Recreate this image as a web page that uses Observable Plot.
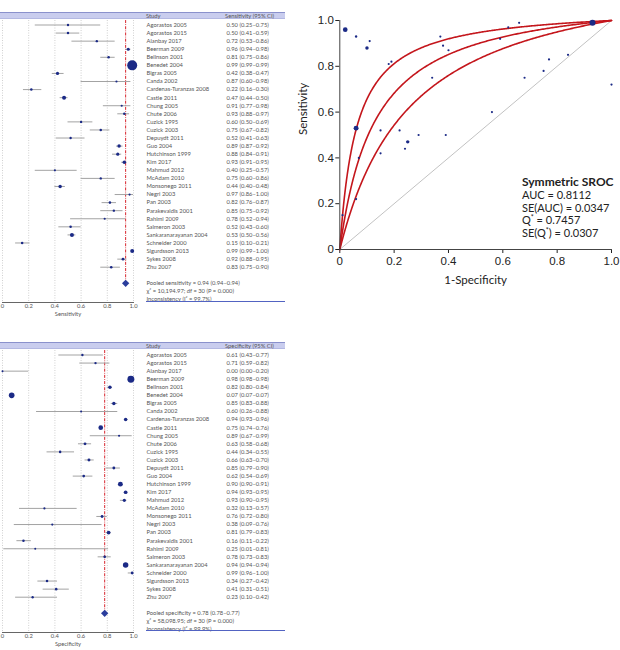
<!DOCTYPE html>
<html><head><meta charset="utf-8">
<script src="https://cdn.jsdelivr.net/npm/d3@7"></script>
<script src="https://cdn.jsdelivr.net/npm/@observablehq/plot@0.6"></script>
<style>
body{margin:0;background:#fff;}
#wrap{position:relative;width:620px;height:650px;overflow:hidden;font-family:Lato,"Noto Sans",sans-serif;}
#wrap svg{position:absolute;overflow:visible;}
.band{position:absolute;left:0;width:285px;height:5px;background:#c9cdee;border-top:1px solid #8a91cc;border-bottom:1px solid #b3b8e2;}
.hdr{position:absolute;font-size:5.8px;color:#555;white-space:nowrap;line-height:6px;}
.uline{position:absolute;left:146px;width:139px;height:1px;background:#5263c2;}
.stats{position:absolute;left:522px;color:#222;font-family:Lato,"Noto Sans",sans-serif;white-space:nowrap;}
.stats div{height:12.8px;line-height:12.8px;font-size:11px;}
.stats .t{font-weight:bold;font-size:12px;}
</style></head><body><div id="wrap"></div>
<script>
// ---- data ----
const studies = ["Agorastos 2005","Agorastos 2015","Alanbay 2017","Beerman 2009","Belinson 2001","Benedet 2004","Bigras 2005","Canda 2002","Cardenas-Turanzas 2008","Castle 2011","Chung 2005","Chute 2006","Cuzick 1995","Cuzick 2003","Depuydt 2011","Guo 2004","Hutchinson 1999","Kim 2017","Mahmud 2012","McAdam 2010","Monsonego 2011","Negri 2003","Pan 2003","Parakevaidis 2001","Rahimi 2009","Salmeron 2003","Sankaranarayanan 2004","Schneider 2000","Sigurdsson 2013","Sykes 2008","Zhu 2007"];
const sensEst = [0.50,0.50,0.72,0.96,0.81,0.99,0.42,0.87,0.22,0.47,0.91,0.93,0.60,0.75,0.52,0.89,0.88,0.93,0.40,0.75,0.44,0.97,0.82,0.85,0.78,0.52,0.53,0.15,0.99,0.92,0.83];
const sensLo  = [0.25,0.41,0.53,0.94,0.75,0.99,0.38,0.60,0.16,0.44,0.77,0.88,0.50,0.67,0.41,0.87,0.84,0.91,0.25,0.60,0.40,0.86,0.76,0.75,0.52,0.43,0.50,0.10,0.99,0.88,0.75];
const sensHi  = [0.75,0.59,0.86,0.98,0.86,0.99,0.47,0.98,0.30,0.50,0.98,0.97,0.69,0.82,0.63,0.92,0.91,0.95,0.57,0.86,0.48,1.00,0.87,0.92,0.94,0.60,0.56,0.21,1.00,0.95,0.90];
const specEst = [0.61,0.71,0.00,0.98,0.82,0.07,0.85,0.60,0.94,0.75,0.89,0.63,0.44,0.66,0.85,0.62,0.90,0.94,0.93,0.32,0.76,0.38,0.81,0.16,0.25,0.78,0.94,0.99,0.34,0.41,0.23];
const specLo  = [0.43,0.59,0.00,0.98,0.80,0.07,0.83,0.26,0.93,0.74,0.67,0.58,0.34,0.63,0.79,0.54,0.90,0.93,0.90,0.13,0.72,0.09,0.79,0.11,0.01,0.73,0.94,0.96,0.27,0.31,0.10];
const specHi  = [0.77,0.82,0.20,0.98,0.84,0.07,0.88,0.88,0.96,0.76,0.99,0.68,0.55,0.70,0.90,0.69,0.91,0.95,0.95,0.57,0.80,0.76,0.83,0.22,0.81,0.83,0.94,1.00,0.42,0.51,0.42];
// relative study weights (marker area)
const sensWeight = [1.4,1.6,1.4,2.3,1.6,25,2.5,1.2,1.6,4,1.2,1.6,1.4,1.6,1.4,3,2.5,3,1.2,1.4,3,1.2,1.6,1.4,1.2,1.6,4,1.6,4,2,1.6];
const specWeight = [1.4,1.4,1.0,12,3,8,3,1.0,3,5.5,1.2,2,1.6,2.2,2,1.8,6,3.5,2.5,1.2,2,1.2,3.5,1.6,1.0,1.8,7.5,2,1.6,1.6,1.4];
const srocWeight = [1.2,1.2,1.2,5.5,1.2,9,1.2,1.2,1.2,3,1.2,1.2,1.2,1.2,1.2,1.2,3,1.4,1.2,1.2,1.2,1.2,1.2,1.2,1.2,1.2,6,1.2,1.2,1.2,1.2];
const pooledSens = 0.94;
const pooledSpec = 0.78;
const sensStats = ["Pooled sensitivity = 0.94 (0.94–0.94)","χ² = 10,194.97; df = 30 (P = 0.000)","Inconsistency (I² = 99.7%)"];
const specStats = ["Pooled specificity = 0.78 (0.78–0.77)","χ² = 58,098.95; df = 30 (P = 0.000)","Inconsistency (I² = 99.9%)"];
const axisTicks = [0,0.2,0.4,0.6,0.8,1.0];
const srocAUC = 0.8112, srocSEAUC = 0.0347, srocQ = 0.7457, srocSEQ = 0.0307;

// ---- helpers ----
const fmt = d => d.toFixed(2);
const tickFmt = d => d === 0 ? "0" : d.toFixed(1);
const wrap = document.getElementById("wrap");
function el(cls, css, html){const d=document.createElement("div");d.className=cls;Object.assign(d.style,css);if(html!=null)d.innerHTML=html;wrap.appendChild(d);return d;}

function forest(est, lo, hi, w, pooled, stats, label){
  const n = studies.length;
  const rows = studies.map((s,i)=>({i, study:s, est:est[i], lo:lo[i], hi:hi[i], w:w[i], ci:`${fmt(est[i])} (${fmt(lo[i])}–${fmt(hi[i])})`}));
  const statRows = stats.map((t,k)=>({i:n+1+k, text:t}));
  return Plot.plot({
    width:290, height:320, marginLeft:2, marginRight:157, marginTop:20, marginBottom:18,
    style:{fontFamily:"Lato, 'Noto Sans', sans-serif", fontSize:"5.8px", color:"#555", background:"transparent", overflow:"visible"},
    x:{domain:[0,1], ticks:axisTicks, tickFormat:tickFmt, tickSize:0, tickPadding:1.5, label:null},
    y:{domain:[0,n-1], range:[24.5,266.7], axis:null},
    r:{type:"sqrt", domain:[0,25], range:[0,5]},
    marks:[
      Plot.ruleX(axisTicks, {stroke:"#c4c4c4", strokeDasharray:"1,1.5", strokeWidth:0.8}),
      Plot.ruleX([pooled], {y1:()=>-0.55, y2:()=>n+1, stroke:"#d7262e", strokeWidth:1, strokeDasharray:"3,1.2,0.8,1.2"}),
      Plot.ruleY(rows, {y:"i", x1:"lo", x2:"hi", stroke:"#a3a3a3", strokeWidth:1}),
      Plot.dot(rows, {x:"est", y:"i", r:"w", fill:"#1b2a86", stroke:"none"}),
      Plot.dot([pooled], {x:d=>d, y:()=>n+1, symbol:"diamond2", r:3.3, fill:"#2a3d9c"}),
      Plot.text(rows, {y:"i", text:"study", frameAnchor:"right", dx:13, textAnchor:"start"}),
      Plot.text(rows, {y:"i", text:"ci", frameAnchor:"right", dx:93, textAnchor:"start"}),
      Plot.text(statRows, {y:"i", text:"text", frameAnchor:"right", dx:13, textAnchor:"start"}),
      Plot.frame({anchor:"bottom", stroke:"#666"}),
      Plot.text([label], {frameAnchor:"bottom", dy:13, fontSize:"5.8px"})
    ]
  });
}

function addForest(top, est, lo, hi, w, pooled, stats, label){
  const svg = forest(est, lo, hi, w, pooled, stats, label);
  svg.style.left = "0px"; svg.style.top = top + "px";
  wrap.appendChild(svg);
  el("band", {top:(top+12)+"px"});
  el("hdr", {left:"146px", top:(top+13)+"px"}, "Study");
  el("hdr", {left:"225px", top:(top+13)+"px"}, label + " (95% CI)");
  el("uline", {top:(top+300.5)+"px"});
}

addForest(0, sensEst, sensLo, sensHi, sensWeight, pooledSens, sensStats, "Sensitivity");
addForest(329.5, specEst, specLo, specHi, specWeight, pooledSpec, specStats, "Specificity");

// ---- SROC ----
const logit = p => Math.log(p/(1-p));
const qLevels = [srocQ + 1.96*srocSEQ, srocQ, srocQ - 1.96*srocSEQ];
const fGrid = d3.range(0, 401).map(k => (k/400)**2);
const curves = qLevels.flatMap((q, c) => {
  const D = 2*logit(q);
  return fGrid.map(f => ({c, f, s: f === 0 ? 0 : 1/(1 + Math.exp(-D)*(1-f)/f)}));
});
const pts = studies.map((s,i)=>({study:s, fpr:1-specEst[i], sens:sensEst[i], w:srocWeight[i]}));

const sroc = Plot.plot({
  width:330, height:300, marginLeft:49.3, marginRight:9, marginTop:20, marginBottom:51,
  style:{fontFamily:"'Liberation Sans', Arial, sans-serif", fontSize:"11.5px", color:"#222", background:"transparent", overflow:"visible"},
  x:{domain:[0,1], ticks:axisTicks, tickFormat:tickFmt, tickSize:4, tickPadding:3, label:null},
  y:{domain:[0,1], ticks:axisTicks, tickFormat:tickFmt, tickSize:4, tickPadding:2, label:null},
  r:{type:"sqrt", domain:[0,25], range:[0,5]},
  marks:[
    Plot.line([0,1], {x:d=>d, y:d=>d, stroke:"#c2c2c2", strokeWidth:1}),
    Plot.line(curves, {x:"f", y:"s", z:"c", stroke:"#c4161c", strokeWidth:1.6}),
    Plot.dot(pts, {x:"fpr", y:"sens", r:"w", fill:"#1b2a86", stroke:"none"}),
    Plot.frame({anchor:"left", stroke:"#444"}),
    Plot.frame({anchor:"bottom", stroke:"#444"}),
    Plot.text(["1-Specificity"], {frameAnchor:"bottom", dy:34, fontFamily:"Lato, 'Noto Sans', sans-serif", fontSize:"11.5px"}),
    Plot.text(["Sensitivity"], {frameAnchor:"left", dx:-36, rotate:-90, fontFamily:"Lato, 'Noto Sans', sans-serif", fontSize:"11.5px"})
  ]
});
sroc.style.left = "290px"; sroc.style.top = "0px";
wrap.appendChild(sroc);

el("stats", {top:"176px"},
  `<div class="t">Symmetric SROC</div>
   <div>AUC = ${srocAUC.toFixed(4)}</div>
   <div>SE(AUC) = ${srocSEAUC.toFixed(4)}</div>
   <div>Q<sup style="font-size:7px;vertical-align:4px;line-height:0">*</sup> = ${srocQ.toFixed(4)}</div>
   <div>SE(Q<sup style="font-size:7px;vertical-align:4px;line-height:0">*</sup>) = ${srocSEQ.toFixed(4)}</div>`);
</script>
</body></html>
